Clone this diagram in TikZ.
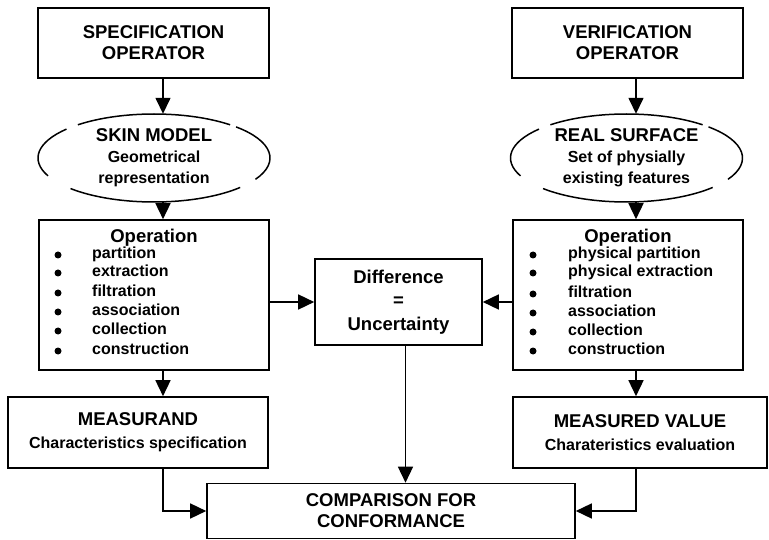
\documentclass[tikz,border=0pt]{standalone}
\usepackage{fontspec}
\setmainfont{Liberation Sans}
\usetikzlibrary{arrows.meta,positioning}
\newcommand{\bigtxt}{\fontsize{18.5}{21}\selectfont\bfseries}
\newcommand{\smalltxt}{\fontsize{16}{18.5}\selectfont\bfseries}
\tikzset{
  blk/.style={draw=black,line width=1.6pt,minimum width=#1,align=center,inner sep=2pt,
    font=\bigtxt},
  blk/.default=231pt,
  surf/.style={minimum width=232pt,minimum height=88pt,align=center,inner sep=0pt,
    font=\bigtxt},
  lst/.style={anchor=west,text height=11pt,text depth=3.5pt,inner sep=0pt},
  dot/.style={circle,fill=black,minimum size=7pt,inner sep=0pt},
  arr/.style={-{Triangle[length=16pt,width=15pt]},line width=1.5pt},
}

\begin{document}
\begin{tikzpicture}[x=1pt,y=-1pt]
  \useasboundingbox (0,0) rectangle (769,540);
  \coordinate (lsp) at (163,0);
  \coordinate (rsp) at (636,0);

  \node[blk,minimum height=70pt] (specop) at (153.5,43) {SPECIFICATION\\OPERATOR};
  \node[blk,minimum height=70pt] (verop) at (627.5,43) {VERIFICATION\\OPERATOR};

  \node[surf] (skin) at (154,158)
    {SKIN MODEL\\\smalltxt Geometrical\\\smalltxt representation};
  \node[surf] (real) at (626.5,158)
    {REAL SURFACE\\\smalltxt Set of physially\\\smalltxt existing features};
  \foreach \n in {skin,real}
    \foreach \a/\b in {49/131,139/204,224/318,331/405}
      \draw[line width=1.5pt] (\n.center) ++(\a:116pt and 44pt)
        arc[start angle=\a,end angle=\b,x radius=116pt,y radius=44pt];

  \node[blk=230pt,minimum height=150pt] (opl) at (154,295) {};
  \node[blk=230pt,minimum height=150pt] (opr) at (628,295) {};
  \node[font=\bigtxt,anchor=base,inner sep=0pt] (oplt) at (154,242.5) {Operation};
  \node[font=\bigtxt,anchor=base,inner sep=0pt] (oprt) at (628,242.5) {Operation};
  \foreach \w/\y [count=\i] in {partition/255,extraction/273,filtration/293,
      association/312,collection/331,construction/351} {
    \node[dot] (lb\i) at (58,\y) {};
    \node[lst] (li\i) at (92,\y) {\smalltxt\w};
  }
  \foreach \w/\y [count=\i] in {physical partition/255,physical extraction/273,filtration/294,
      association/313,collection/332,construction/351} {
    \node[dot] (rb\i) at (533,\y) {};
    \node[lst] (ri\i) at (568,\y) {\smalltxt\w};
  }

  \node[blk=167pt,minimum height=86pt] (diff) at (398.5,302)
    {Difference\\[2.5pt]=\\[2.5pt]Uncertainty};

  \node[blk=260pt,minimum height=71pt] (msd) at (138,432.5)
    {MEASURAND\\[2pt]\smalltxt Characteristics specification};
  \node[blk=254pt,minimum height=71pt] (mval) at (640,432.5)
    {MEASURED VALUE\\[2pt]\smalltxt Charateristics evaluation};

  \node[blk=368pt,minimum height=55pt] (comp) at (391,511) {COMPARISON FOR\\CONFORMANCE};

  % left and right chains
  \draw[arr] (specop.south -| lsp) -- (skin.north -| lsp);
  \draw[arr] (skin.south -| lsp) -- (opl.north -| lsp);
  \draw[arr] (opl.south -| lsp) -- (msd.north -| lsp);
  \draw[arr] (verop.south -| rsp) -- (real.north -| rsp);
  \draw[arr] (real.south -| rsp) -- (opr.north -| rsp);
  \draw[arr] (opr.south -| rsp) -- (mval.north -| rsp);

  % into the difference and the comparison
  \draw[arr] (diff.west -| opl.east) -- (diff.west);
  \draw[arr] (diff.east -| opr.west) -- (diff.east);
  \draw[arr] ([xshift=7pt]diff.south) -- ([xshift=7pt]diff.south |- comp.north);
  \draw[arr] (msd.south -| lsp) |- (comp.west);
  \draw[arr] (mval.south -| rsp) |- (comp.east);
\end{tikzpicture}
\end{document}
